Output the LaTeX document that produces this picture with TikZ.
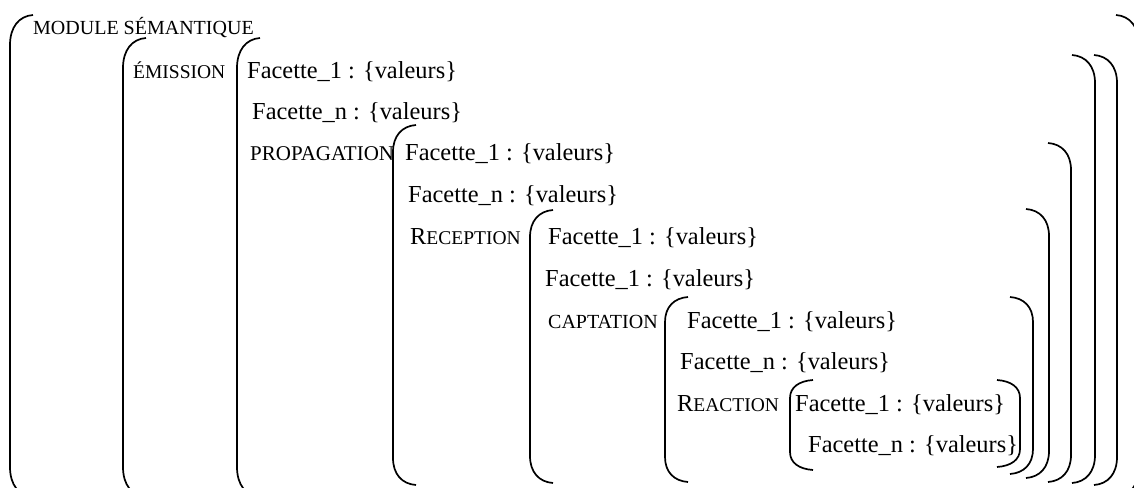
\documentclass[tikz,border=0pt]{standalone}
\usepackage{fontspec}
\setmainfont{Liberation Serif}
\newcommand\smallcapsword[2][20]{{\fontsize{#1}{20}\selectfont #2}}
\newcommand\initialcap[1]{{\fontsize{24.4}{24}\selectfont #1}}
\newcommand\brkL[4]{% x, ytop, ybot, dy
  \draw[brk] ({#1+23},#2) .. controls ({#1+9},{#2+1}) and (#1,{#2+0.4*#4}) .. (#1,{#2+#4})
    -- (#1,{#3-#4}) .. controls (#1,{#3-0.4*#4}) and ({#1+9},{#3-1}) .. ({#1+23},#3);}
\newcommand\brkR[4]{% x, ytop, ybot, dy
  \draw[brk] ({#1-23},#2) .. controls ({#1-9},{#2+1}) and (#1,{#2+0.4*#4}) .. (#1,{#2+#4})
    -- (#1,{#3-#4}) .. controls (#1,{#3-0.4*#4}) and ({#1-9},{#3-1}) .. ({#1-23},#3);}
\begin{document}
\begin{tikzpicture}[x=1pt,y=-1pt,
  brk/.style={line width=1.7pt},
  facet/.style={anchor=base west, inner sep=0pt, font=\fontsize{24.4}{24}\selectfont},
  capword/.style={anchor=base west, inner sep=0pt}]
\useasboundingbox (0,0) rectangle (1134,487);
\fill[white] (0,0) rectangle (1134,487);
\clip (0,0) rectangle (1134,487);
% left brackets
\brkL{10}{15}{497}{30}
\brkL{123}{38}{497}{30}
\brkL{237}{38}{497}{30}
\brkL{393}{125}{485}{27}
\brkL{530}{210}{483}{27}
\brkL{665}{297}{482}{25}
\brkL{790}{380}{470}{18}
% right brackets
\brkR{1139}{15}{497}{30}
\brkR{1117}{55}{485}{28}
\brkR{1095}{55}{483}{28}
\brkR{1071}{143}{482}{27}
\brkR{1049}{209}{478}{27}
\brkR{1033}{297}{474}{25}
\brkR{1020}{380}{467}{18}
% texts
\node[capword] (module) at (33,35) {\smallcapsword{MODULE SÉMANTIQUE}};
\node[capword] (emission) at (133,78) {\smallcapsword[19.5]{ÉMISSION}};
\node[facet] (e1) at (247,78) {Facette\_1 : \{valeurs\}};
\node[facet] (en) at (252,119) {Facette\_n : \{valeurs\}};
\node[capword] (propagation) at (250,160) {\smallcapsword[21]{PROPAGATION}};
\node[facet] (p1) at (405,160) {Facette\_1 : \{valeurs\}};
\node[facet] (pn) at (408,202) {Facette\_n : \{valeurs\}};
\node[capword] (reception) at (410,244) {\initialcap{R}\smallcapsword[19.5]{ECEPTION}};
\node[facet] (r1) at (548,244) {Facette\_1 : \{valeurs\}};
\node[facet] (r2) at (545,286) {Facette\_1 : \{valeurs\}};
\node[capword] (captation) at (548,328) {\smallcapsword[20]{CAPTATION}};
\node[facet] (c1) at (687,328) {Facette\_1 : \{valeurs\}};
\node[facet] (cn) at (680,369) {Facette\_n : \{valeurs\}};
\node[capword] (reaction) at (677,411) {\initialcap{R}\smallcapsword[19.5]{EACTION}};
\node[facet] (a1) at (795,411) {Facette\_1 : \{valeurs\}};
\node[facet] (an) at (808,452) {Facette\_n : \{valeurs\}};
\end{tikzpicture}
\end{document}
